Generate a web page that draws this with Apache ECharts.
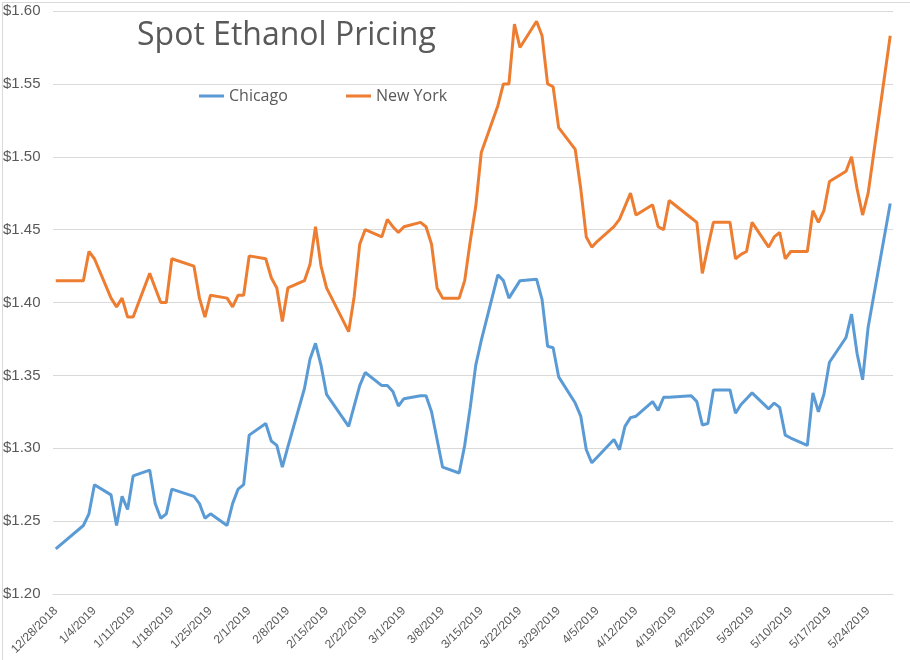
<!DOCTYPE html>
<html>
<head>
<meta charset="utf-8">
<title>Spot Ethanol Pricing</title>
<script src="https://cdn.jsdelivr.net/npm/echarts@6/dist/echarts.min.js"></script>
<style>
  html, body { margin: 0; padding: 0; background: #fff; }
  #main { width: 910px; height: 660px; }
</style>
</head>
<body>
<div id="main"></div>
<script>
// trading days (M/D/YYYY)
var dates = [
  '12/28/2018', '1/2/2019', '1/3/2019', '1/4/2019', '1/7/2019', '1/8/2019', '1/9/2019', '1/10/2019', '1/11/2019',
  '1/14/2019', '1/15/2019', '1/16/2019', '1/17/2019', '1/18/2019', '1/22/2019', '1/23/2019', '1/24/2019', '1/25/2019',
  '1/28/2019', '1/29/2019', '1/30/2019', '1/31/2019', '2/1/2019', '2/4/2019', '2/5/2019', '2/6/2019', '2/7/2019', '2/8/2019',
  '2/11/2019', '2/12/2019', '2/13/2019', '2/14/2019', '2/15/2019', '2/19/2019', '2/20/2019', '2/21/2019', '2/22/2019',
  '2/25/2019', '2/26/2019', '2/27/2019', '2/28/2019', '3/1/2019', '3/4/2019', '3/5/2019', '3/6/2019', '3/7/2019', '3/8/2019',
  '3/11/2019', '3/12/2019', '3/13/2019', '3/14/2019', '3/15/2019', '3/18/2019', '3/19/2019', '3/20/2019', '3/21/2019', '3/22/2019',
  '3/25/2019', '3/26/2019', '3/27/2019', '3/28/2019', '3/29/2019', '4/1/2019', '4/2/2019', '4/3/2019', '4/4/2019', '4/5/2019',
  '4/8/2019', '4/9/2019', '4/10/2019', '4/11/2019', '4/12/2019', '4/15/2019', '4/16/2019', '4/17/2019', '4/18/2019',
  '4/22/2019', '4/23/2019', '4/24/2019', '4/25/2019', '4/26/2019', '4/29/2019', '4/30/2019', '5/1/2019', '5/2/2019', '5/3/2019',
  '5/6/2019', '5/7/2019', '5/8/2019', '5/9/2019', '5/10/2019', '5/13/2019', '5/14/2019', '5/15/2019', '5/16/2019', '5/17/2019',
  '5/20/2019', '5/21/2019', '5/22/2019', '5/23/2019', '5/24/2019', '5/28/2019'
];

var chicago = [
  1.231, 1.247, 1.255, 1.275, 1.268, 1.247, 1.267, 1.258, 1.281,
  1.285, 1.262, 1.252, 1.255, 1.272, 1.267, 1.262, 1.252, 1.255,
  1.247, 1.262, 1.272, 1.275, 1.309, 1.317, 1.305, 1.302, 1.287, 1.301,
  1.341, 1.361, 1.372, 1.357, 1.337, 1.315, 1.329, 1.343, 1.352,
  1.343, 1.343, 1.339, 1.329, 1.334, 1.336, 1.336, 1.325, 1.306, 1.287,
  1.283, 1.302, 1.328, 1.357, 1.374, 1.419, 1.415, 1.403, 1.409, 1.415,
  1.416, 1.402, 1.370, 1.369, 1.349, 1.331, 1.322, 1.299, 1.290, 1.294,
  1.306, 1.299, 1.315, 1.321, 1.322, 1.332, 1.326, 1.335, 1.335,
  1.336, 1.332, 1.316, 1.317, 1.340, 1.340, 1.324, 1.330, 1.334, 1.338,
  1.327, 1.331, 1.328, 1.309, 1.307, 1.302, 1.338, 1.325, 1.337, 1.359,
  1.376, 1.392, 1.365, 1.347, 1.383, 1.468
];

var newYork = [
  1.415, 1.415, 1.435, 1.430, 1.403, 1.397, 1.403, 1.390, 1.390,
  1.420, 1.410, 1.400, 1.400, 1.430, 1.425, 1.403, 1.390, 1.405,
  1.403, 1.397, 1.405, 1.405, 1.432, 1.430, 1.417, 1.410, 1.387, 1.410,
  1.415, 1.426, 1.452, 1.425, 1.410, 1.380, 1.404, 1.440, 1.450,
  1.445, 1.457, 1.452, 1.448, 1.452, 1.455, 1.452, 1.440, 1.410, 1.403,
  1.403, 1.415, 1.442, 1.466, 1.503, 1.535, 1.550, 1.550, 1.591, 1.575,
  1.593, 1.583, 1.550, 1.548, 1.520, 1.505, 1.478, 1.445, 1.438, 1.442,
  1.452, 1.457, 1.466, 1.475, 1.460, 1.467, 1.452, 1.450, 1.470,
  1.458, 1.455, 1.420, 1.438, 1.455, 1.455, 1.430, 1.433, 1.435, 1.455,
  1.438, 1.445, 1.448, 1.430, 1.435, 1.435, 1.463, 1.455, 1.463, 1.483,
  1.490, 1.500, 1.478, 1.460, 1.475, 1.583
];

// date axis: one category per calendar day, label every 7 days
var parseDate = function (s) {
  var p = s.split('/');
  return new Date(+p[2], +p[0] - 1, +p[1]);
};
var fmtDate = function (d) {
  return (d.getMonth() + 1) + '/' + d.getDate() + '/' + d.getFullYear();
};

var days = [];
var start = parseDate(dates[0]);
var end = parseDate(dates[dates.length - 1]);
for (var d = new Date(start); d <= end; d.setDate(d.getDate() + 1)) {
  days.push(fmtDate(d));
}

var chiData = days.map(function () { return null; });
var nyData = days.map(function () { return null; });
dates.forEach(function (s, i) {
  var k = days.indexOf(fmtDate(parseDate(s)));
  chiData[k] = chicago[i];
  nyData[k] = newYork[i];
});

var chartDom = document.getElementById('main');
var myChart = echarts.init(chartDom);
var textColor = '#595959';
var option = {
  animation: false,
  backgroundColor: '#ffffff',
  textStyle: { fontFamily: 'Liberation Sans' },
  title: {
    text: 'Spot Ethanol Pricing',
    left: 132,
    top: 15,
    textStyle: { fontFamily: 'Open Sans', fontSize: 32, fontWeight: 'normal', color: textColor }
  },
  legend: [
    {
      data: ['Chicago'],
      left: 199,
      top: 88,
      padding: 0,
      icon: 'rect',
      itemWidth: 25,
      itemHeight: 3,
      itemGap: 0,
      textStyle: { fontFamily: 'Open Sans', fontSize: 16, color: textColor }
    },
    {
      data: ['New York'],
      left: 346,
      top: 88,
      padding: 0,
      icon: 'rect',
      itemWidth: 25,
      itemHeight: 3,
      itemGap: 0,
      textStyle: { fontFamily: 'Open Sans', fontSize: 16, color: textColor }
    }
  ],
  grid: {
    left: 53,
    right: 17,
    top: 11,
    bottom: 66
  },
  xAxis: {
    type: 'category',
    data: days,
    boundaryGap: true,
    axisLine: { lineStyle: { color: '#d9d9d9', width: 1 } },
    axisTick: { show: false },
    axisLabel: {
      interval: 6,
      rotate: 45,
      margin: 15,
      fontSize: 12,
      color: textColor
    }
  },
  yAxis: {
    type: 'value',
    min: 1.2,
    max: 1.6,
    interval: 0.05,
    axisLine: { show: false },
    axisTick: { show: false },
    splitLine: { lineStyle: { color: '#d9d9d9', width: 1 } },
    axisLabel: {
      align: 'left',
      margin: 50,
      fontSize: 15,
      color: textColor,
      formatter: function (v) { return '$' + v.toFixed(2); }
    }
  },
  series: [
    {
      name: 'Chicago',
      type: 'line',
      data: chiData,
      connectNulls: true,
      symbol: 'none',
      lineStyle: { color: '#5B9BD5', width: 3 },
      itemStyle: { color: '#5B9BD5' }
    },
    {
      name: 'New York',
      type: 'line',
      data: nyData,
      connectNulls: true,
      symbol: 'none',
      lineStyle: { color: '#ED7D31', width: 3 },
      itemStyle: { color: '#ED7D31' }
    }
  ],
  graphic: [
    {
      type: 'rect',
      left: 0,
      top: 0,
      shape: { width: 909, height: 659 },
      style: { fill: 'none', stroke: '#d9d9d9', lineWidth: 1 },
      silent: true
    }
  ]
};
option && myChart.setOption(option);
</script>
</body>
</html>
